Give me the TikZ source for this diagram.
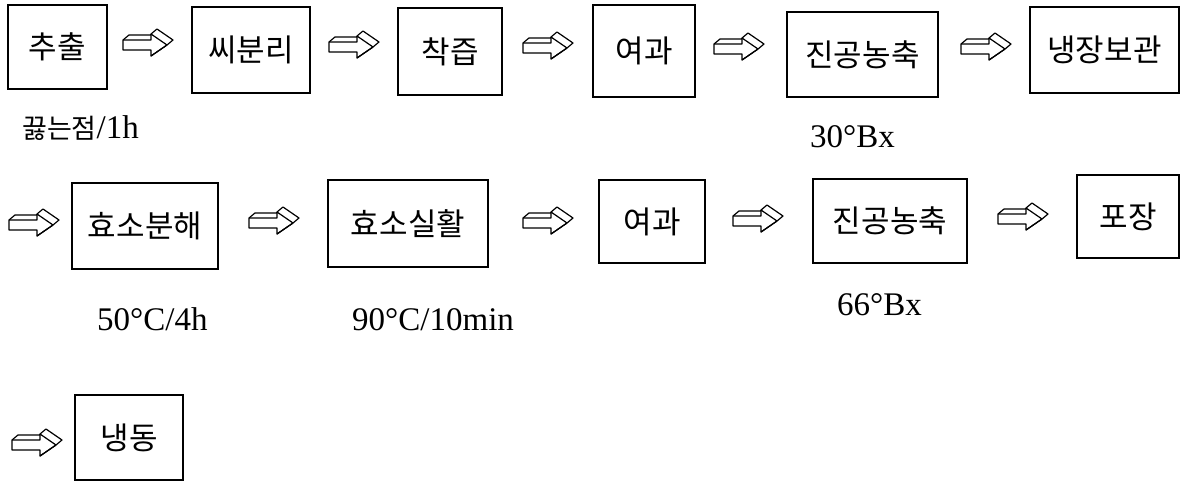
\documentclass[tikz,border=0pt]{standalone}
\usepackage{fontspec}
\setmainfont{Liberation Serif}
\newfontfamily\kr{Noto Sans CJK KR}

\begin{document}
\begin{tikzpicture}[x=1pt,y=-1pt,
  box/.style={draw, line width=1.1pt, inner sep=0pt,
    font=\kr\fontsize{31}{31}\selectfont},
  note/.style={inner sep=0pt, anchor=base west,
    font=\fontsize{33}{33}\selectfont},
  arrowline/.style={line width=1.2pt, line join=round},
  blockarrow/.pic={
    % silhouette of the extruded block arrow
    \draw[arrowline] (0,8) -- (28,8) -- (28,14) -- (44,3) -- (50,-2)
      -- (34,-13) -- (28,-8) -- (28,-7) -- (6,-7) -- (0,-2) -- cycle;
    % front-face edges
    \draw[arrowline] (0,-2) -- (28,-2) -- (28,-8) (28,14) -- (44,3);
    \draw[arrowline] (28,-8) -- (44,3);
  }]
\useasboundingbox (0,0) rectangle (1181,483);

% first row
\node[box, minimum width=99,  minimum height=84] (b1)  at (57.5,47)   {추출};
\node[box, minimum width=118, minimum height=86] (b2)  at (251,50)    {씨분리};
\node[box, minimum width=104, minimum height=87] (b3)  at (450,51.5)  {착즙};
\node[box, minimum width=102, minimum height=92] (b4)  at (644,51)    {여과};
\node[box, minimum width=151, minimum height=85] (b5)  at (862.5,54.5){진공농축};
\node[box, minimum width=149, minimum height=86] (b6)  at (1104.5,50) {냉장보관};

% second row
\node[box, minimum width=146, minimum height=86] (b7)  at (145,226)   {효소분해};
\node[box, minimum width=160, minimum height=87] (b8)  at (408,223.5) {효소실활};
\node[box, minimum width=106, minimum height=83] (b9)  at (652,221.5) {여과};
\node[box, minimum width=154, minimum height=84] (b10) at (890,221)   {진공농축};
\node[box, minimum width=102, minimum height=83] (b11) at (1128,216.5){포장};

% third row
\node[box, minimum width=108, minimum height=85] (b12) at (129,437.5) {냉동};

% block arrows between the steps
\pic at (123,42)  {blockarrow};
\pic at (329,44)  {blockarrow};
\pic at (523,45)  {blockarrow};
\pic at (714,46)  {blockarrow};
\pic at (961,46)  {blockarrow};
\pic at (9,222)   {blockarrow};
\pic at (249,220) {blockarrow};
\pic at (523,220) {blockarrow};
\pic at (733,218) {blockarrow};
\pic at (998,216) {blockarrow};
\pic at (12,442)  {blockarrow};

% process conditions
\node[note] (n1) at (22,138)  {{\kr\fontsize{27}{27}\selectfont 끓는점}/1h};
\node[note] (n2) at (810,147) {30°Bx};
\node[note] (n3) at (97,330)  {50°C/4h};
\node[note] (n4) at (352,330) {90°C/10min};
\node[note] (n5) at (837,315) {66°Bx};
\end{tikzpicture}
\end{document}
